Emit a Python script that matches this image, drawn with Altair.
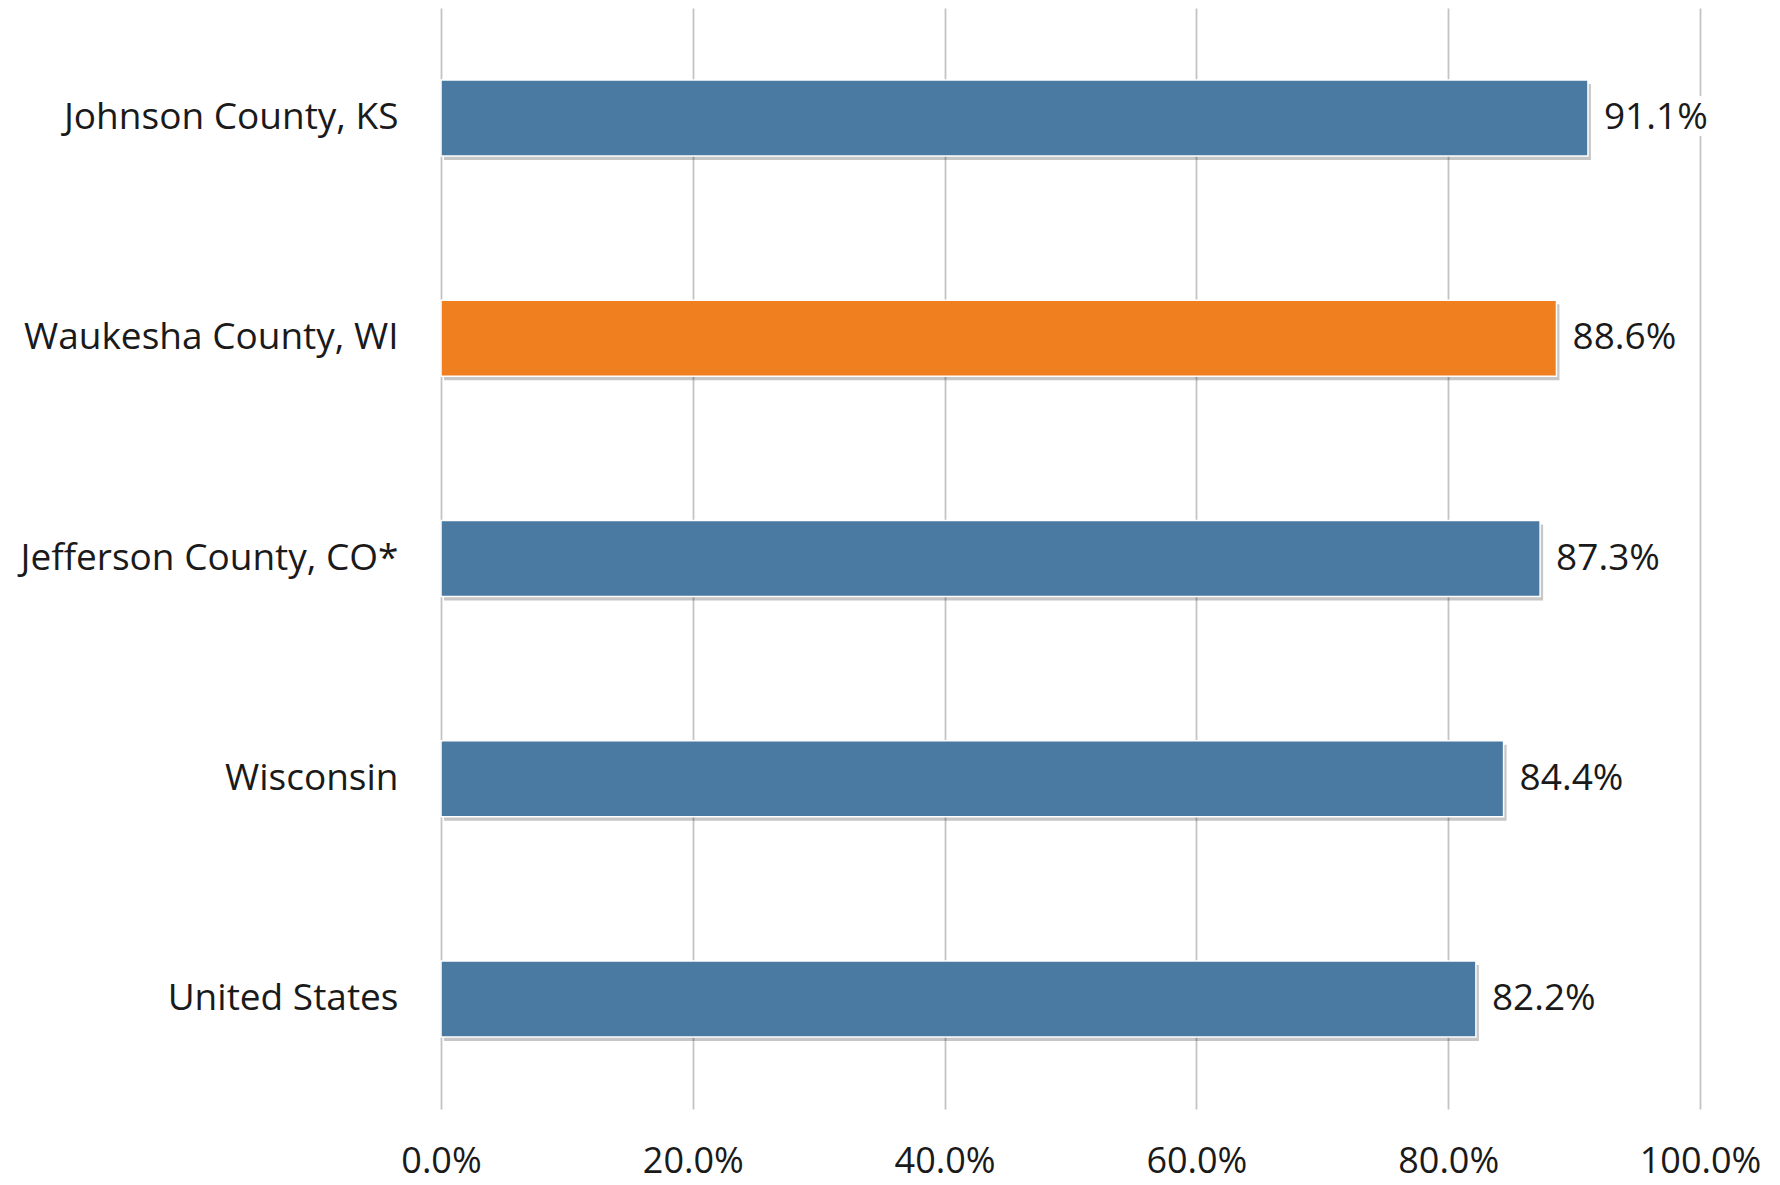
import altair as alt
import pandas as pd

categories = ["Johnson County, KS", "Waukesha County, WI", "Jefferson County, CO*", "Wisconsin", "United States"]
values = [0.911, 0.886, 0.873, 0.844, 0.822]
highlight = [False, True, False, False, False]
tick_values = [0.0, 0.2, 0.4, 0.6, 0.8, 1.0]

df = pd.DataFrame({"cat": categories, "val": values, "hl": highlight})

FONT = "Open Sans"
FS = 37

y_enc = alt.Y("cat:N", sort=categories, title=None,
              scale=alt.Scale(paddingInner=0.655, paddingOuter=0.3275),
              axis=alt.Axis(labelFont=FONT, labelFontSize=FS, labelColor="#1a1a1a",
                            labelPadding=43, labelLimit=600, ticks=False, domain=False,
                            grid=False))
x_enc = alt.X("val:Q", title=None,
              scale=alt.Scale(domain=[0, 1], nice=False),
              axis=alt.Axis(values=tick_values, format=".1%", labelFont=FONT, labelFontSize=36,
                            labelColor="#1a1a1a", labelPadding=35, ticks=False, domain=False,
                            grid=True, gridColor="#c4c4c4", gridWidth=1.8,
                            labelBaseline="top", labelFlush=False, labelAlign="center"))

base = alt.Chart(df)

shadow = base.mark_bar(color="#000000", opacity=0.22, xOffset=3, yOffset=4).encode(x=x_enc, y=y_enc)

bars = base.mark_bar(stroke="white", strokeWidth=1.5).encode(
    x=x_enc, y=y_enc,
    color=alt.Color("hl:N", scale=alt.Scale(domain=[False, True], range=["#4a79a2", "#f07f1f"]),
                    legend=None),
)

halo = base.mark_text(align="left", baseline="middle", dx=16, font=FONT, fontSize=FS,
                      color="white", stroke="white", strokeWidth=14).encode(
    x=x_enc, y=y_enc, text=alt.Text("val:Q", format=".1%"))

labels = base.mark_text(align="left", baseline="middle", dx=16, font=FONT, fontSize=FS,
                        color="#1a1a1a").encode(
    x=x_enc, y=y_enc, text=alt.Text("val:Q", format=".1%"))

chart = alt.layer(shadow, bars, halo, labels).properties(
    width=1259, height=1101,
    autosize=alt.AutoSizeParams(type="none"),
    padding={"left": 433, "top": 0, "right": 60, "bottom": 74},
).configure_view(stroke=None)

chart.save("out.html", embed_options={"renderer": "svg", "actions": False})
